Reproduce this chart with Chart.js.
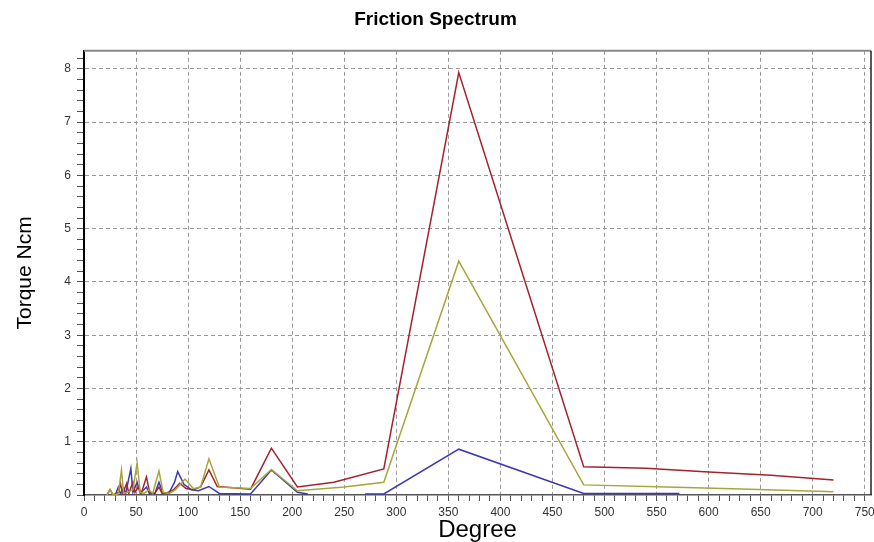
<!DOCTYPE html>
<html>
<head>
<meta charset="utf-8">
<script src="https://cdn.jsdelivr.net/npm/chart.js@4"></script>
<style>
  html, body { margin: 0; padding: 0; background: #fff; }
  #wrap { width: 874px; height: 542px; position: relative; }
</style>
</head>
<body>
<div id="wrap"><canvas id="frictionChart"></canvas></div>
<script>
// red series
const redDegree = [22, 25, 28, 33, 35, 37, 41, 43, 47, 49, 52, 55, 60, 63, 68, 72, 75, 80, 86, 92, 98, 105, 112, 120, 128, 140, 160, 180, 205, 240, 288, 360, 480, 540, 600, 660, 720];
const redTorque = [0.0, 0.1, 0.0, 0.05, 0.22, 0.02, 0.22, 0.03, 0.24, 0.05, 0.15, 0.03, 0.34, 0.05, 0.03, 0.15, 0.03, 0.04, 0.1, 0.22, 0.12, 0.1, 0.15, 0.47, 0.16, 0.14, 0.11, 0.88, 0.15, 0.24, 0.49, 7.93, 0.53, 0.5, 0.43, 0.37, 0.28];

// olive series
const oliveDegree = [22, 25, 28, 33, 36, 38, 42, 47, 51, 54, 58, 62, 66, 72, 76, 82, 88, 97, 105, 112, 120, 130, 160, 180, 205, 250, 288, 360, 480, 560, 640, 720];
const oliveTorque = [0.0, 0.1, 0.0, 0.02, 0.47, 0.03, 0.05, 0.1, 0.6, 0.05, 0.03, 0.1, 0.03, 0.45, 0.05, 0.03, 0.1, 0.3, 0.12, 0.15, 0.68, 0.15, 0.12, 0.48, 0.08, 0.15, 0.24, 4.39, 0.19, 0.15, 0.11, 0.06];

// blue series (null = gap)
const blueDegree = [30, 33, 35, 38, 40, 45, 47, 51, 54, 60, 63, 68, 72, 76, 82, 87, 90, 96, 103, 110, 120, 130, 160, 180, 205, 215, 240, 270, 288, 360, 480, 572];
const blueTorque = [0.0, 0.15, 0.02, 0.13, 0.02, 0.5, 0.05, 0.24, 0.03, 0.15, 0.02, 0.03, 0.24, 0.03, 0.05, 0.24, 0.44, 0.2, 0.1, 0.08, 0.16, 0.03, 0.02, 0.47, 0.05, 0.02, null, 0.02, 0.02, 0.86, 0.03, 0.03];

const xTickLabels = [0, 50, 100, 150, 200, 250, 300, 350, 400, 450, 500, 550, 600, 650, 700, 750];
const yTickLabels = [0, 1, 2, 3, 4, 5, 6, 7, 8];
const xMinorStep = 10;
const yMinorStep = 0.2;

function toPoints(xs, ys) {
    return xs.map((x, i) => ({ x: x, y: ys[i] }));
}

function isLabelled(list, v) {
    return list.some(t => Math.abs(t - v) < 1e-6);
}

function minorTicks(step, last) {
    const out = [];
    for (let i = 0; i * step <= last + 1e-9; i++) out.push({ value: Math.round(i * step * 1000) / 1000 });
    return out;
}

// top and right edges of the plot frame
const framePlugin = {
    id: 'frame',
    afterDraw(chart) {
        const { ctx, chartArea: a } = chart;
        ctx.save();
        ctx.lineWidth = 2;
        ctx.strokeStyle = '#8a8a8a';
        ctx.beginPath();
        ctx.moveTo(a.left, a.top);
        ctx.lineTo(a.right, a.top);
        ctx.stroke();
        ctx.strokeStyle = '#222';
        ctx.lineWidth = 1.5;
        ctx.beginPath();
        ctx.moveTo(a.right, a.top);
        ctx.lineTo(a.right, a.bottom);
        ctx.stroke();
        ctx.restore();
    }
};

const font = "'Liberation Sans', Arial, sans-serif";

new Chart(document.getElementById('frictionChart').getContext('2d'), {
    type: 'line',
    data: {
        datasets: [
            {
                label: 'olive',
                data: toPoints(oliveDegree, oliveTorque),
                borderColor: '#a7a63c',
                borderWidth: 1.5,
                pointRadius: 0,
                tension: 0,
            },
            {
                label: 'red',
                data: toPoints(redDegree, redTorque),
                borderColor: '#a3222c',
                borderWidth: 1.5,
                pointRadius: 0,
                tension: 0,
            },
            {
                label: 'blue',
                data: toPoints(blueDegree, blueTorque),
                borderColor: '#3b3bb0',
                borderWidth: 1.5,
                pointRadius: 0,
                tension: 0,
                spanGaps: false,
            }
        ]
    },
    options: {
        responsive: true,
        maintainAspectRatio: false,
        animation: false,
        layout: { padding: { top: 0, right: 3, bottom: 0, left: 0 } },
        plugins: {
            legend: { display: false },
            tooltip: { enabled: false },
            title: {
                display: true,
                text: 'Friction Spectrum',
                color: '#000',
                font: { family: font, size: 19, weight: 'bold', lineHeight: 1.2 },
                padding: { top: 8, bottom: 20 }
            }
        },
        scales: {
            x: {
                type: 'linear',
                min: 0,
                max: 756,
                afterBuildTicks: s => { s.ticks = minorTicks(xMinorStep, 750); },
                afterFit: s => { s.height = 47; s.paddingRight = 0; },
                grid: {
                    color: c => (c.tick && c.tick.value > 0 && isLabelled(xTickLabels, c.tick.value)) ? '#9a9a9a' : 'rgba(0,0,0,0)',
                    tickColor: '#555',
                    tickLength: 6,
                    lineWidth: 1,
                },
                border: { display: true, color: '#555', width: 1.5, dash: [4, 3] },
                ticks: {
                    autoSkip: false,
                    maxRotation: 0,
                    padding: 4,
                    color: '#333',
                    font: { family: font, size: 12 },
                    callback: v => isLabelled(xTickLabels, v) ? String(v) : ''
                },
                title: {
                    display: true,
                    text: 'Degree',
                    color: '#000',
                    font: { family: font, size: 24, lineHeight: 1 },
                    padding: { top: 0, bottom: 0 }
                }
            },
            y: {
                type: 'linear',
                min: 0,
                max: 8.34,
                afterBuildTicks: s => { s.ticks = minorTicks(yMinorStep, 8.2); },
                afterFit: s => { s.width = 84; },
                grid: {
                    color: c => (c.tick && c.tick.value > 0 && isLabelled(yTickLabels, c.tick.value)) ? '#9a9a9a' : 'rgba(0,0,0,0)',
                    tickColor: '#555',
                    tickLength: 7,
                    lineWidth: 1,
                },
                border: { display: true, color: '#000', width: 2, dash: [4, 3] },
                ticks: {
                    autoSkip: false,
                    padding: 6,
                    color: '#333',
                    font: { family: font, size: 12 },
                    callback: v => isLabelled(yTickLabels, v) ? String(Math.round(v)) : ''
                },
                title: {
                    display: true,
                    text: 'Torque Ncm',
                    color: '#000',
                    font: { family: font, size: 21, lineHeight: 1 },
                    padding: { top: 15, bottom: 0 }
                }
            }
        }
    },
    plugins: [framePlugin]
});
</script>
</body>
</html>
